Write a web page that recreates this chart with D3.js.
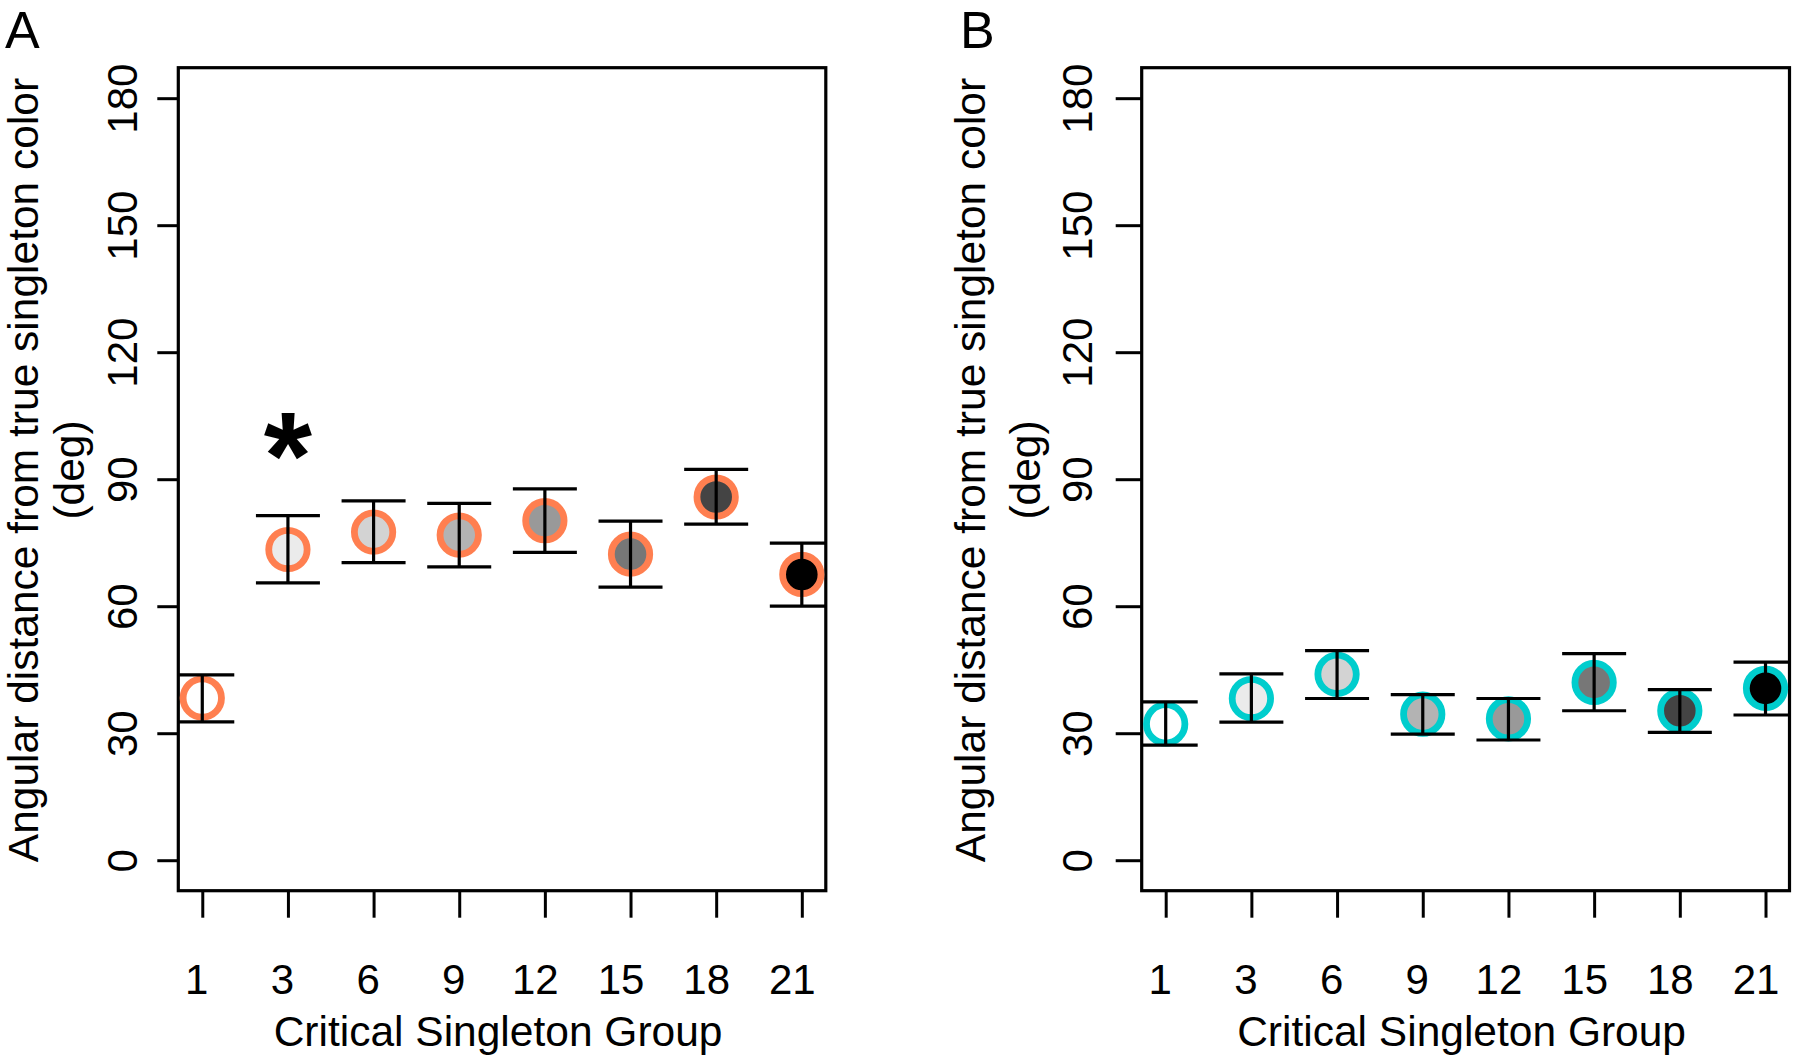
<!DOCTYPE html>
<html>
<head>
<meta charset="utf-8">
<script src="https://cdn.jsdelivr.net/npm/d3@7"></script>
<style>
  html, body { margin: 0; padding: 0; background: #fff; }
  svg { display: block; }
  text { font-family: "Liberation Sans", Arial, Helvetica, sans-serif; fill: #000; }
</style>
</head>
<body>
<svg id="chart" width="1800" height="1057"></svg>
<script>
// ---- Data ----
const groups = ["1", "3", "6", "9", "12", "15", "18", "21"];
const yTicks = [0, 30, 60, 90, 120, 150, 180];
const grayFills = ["#FFFFFF", "#EBEBEB", "#D3D3D3", "#B3B3B3", "#999999", "#777777", "#444444", "#000000"];

const meanA  = [38.3, 73.4, 77.5, 76.8, 80.2, 72.3, 85.8, 67.5];
const upperA = [43.8, 81.4, 84.9, 84.3, 87.7, 80.1, 92.3, 74.9];
const lowerA = [32.7, 65.5, 70.3, 69.3, 72.7, 64.5, 79.4, 60.0];

const meanB  = [32.2, 38.2, 43.9, 34.5, 33.4, 42.0, 35.3, 40.6];
const upperB = [37.4, 44.0, 49.5, 39.1, 38.2, 48.8, 40.3, 46.8];
const lowerB = [27.2, 32.6, 38.2, 29.8, 28.4, 35.3, 30.2, 34.3];

const significance = [{ group: 2, value: 100.8, label: "*" }]; // panel A only

const yTitle1 = "Angular distance from true singleton color";
const yTitle2 = "(deg)";
const xTitle = "Critical Singleton Group";

const panels = [
  { id: "A", mean: meanA, upper: upperA, lower: lowerA, ring: "#FF7F50", stars: significance,
    left: 178.3, right: 825.8, yTickLen: 21, yLabelOff: 41.3, title1X: 38, title2X: 84, letterX: 5 },
  { id: "B", mean: meanB, upper: upperB, lower: lowerB, ring: "#00CDCD", stars: [],
    left: 1141.7, right: 1789.5, yTickLen: 26, yLabelOff: 50, title1X: 985, title2X: 1040, letterX: 960 }
];

const plotTop = 67.7, plotBottom = 890.7;
const svg = d3.select("#chart");

panels.forEach((p) => {
  const x = d3.scaleLinear().domain([0.72, 8.28]).range([p.left, p.right]);
  const y = d3.scaleLinear().domain([-7.2, 187.2]).range([plotBottom, plotTop]);
  const g = svg.append("g");
  const idx = d3.range(1, 9);

  const clipId = "clip" + p.id;
  svg.append("defs").append("clipPath").attr("id", clipId)
    .append("rect").attr("x", p.left).attr("y", plotTop)
    .attr("width", p.right - p.left).attr("height", plotBottom - plotTop);

  // Y axis
  const yAxis = g.append("g").attr("transform", `translate(${p.left},0)`)
    .call(d3.axisLeft(y).tickValues(yTicks).tickSize(p.yTickLen).tickFormat(d3.format("d")));
  yAxis.select(".domain").remove();
  yAxis.selectAll(".tick line").attr("stroke", "#000").attr("stroke-width", 3);
  yAxis.selectAll(".tick text")
    .attr("x", null).attr("dy", null).attr("y", null)
    .attr("transform", `translate(${-p.yLabelOff},0) rotate(-90)`)
    .attr("text-anchor", "middle")
    .attr("fill", "#000")
    .style("font-size", "42px");

  // X axis
  const xAxis = g.append("g").attr("transform", `translate(0,${plotBottom})`)
    .call(d3.axisBottom(x).tickValues(idx).tickSize(27).tickFormat(i => groups[i - 1]));
  xAxis.select(".domain").remove();
  xAxis.selectAll(".tick line").attr("stroke", "#000").attr("stroke-width", 3);
  xAxis.selectAll(".tick text")
    .attr("y", 994 - plotBottom).attr("dy", 0)
    .attr("dx", i => groups[i - 1].length > 1 ? -10 : -6)
    .attr("text-anchor", "middle")
    .attr("fill", "#000")
    .style("font-size", "42px");

  // Box
  g.append("rect").attr("x", p.left).attr("y", plotTop)
    .attr("width", p.right - p.left).attr("height", plotBottom - plotTop)
    .attr("fill", "none").attr("stroke", "#000").attr("stroke-width", 3.2);

  // Points
  g.append("g").selectAll("circle").data(idx).join("circle")
    .attr("cx", i => x(i)).attr("cy", i => y(p.mean[i - 1]))
    .attr("r", 19.2)
    .attr("fill", i => grayFills[i - 1])
    .attr("stroke", p.ring).attr("stroke-width", 6.8);

  // Error bars (on top, clipped to plot region)
  const eb = g.append("g").attr("clip-path", `url(#${clipId})`)
    .attr("stroke", "#000").attr("stroke-width", 3.2);
  eb.selectAll("line.v").data(idx).join("line").attr("class", "v")
    .attr("x1", i => x(i)).attr("x2", i => x(i))
    .attr("y1", i => y(p.upper[i - 1])).attr("y2", i => y(p.lower[i - 1]));
  eb.selectAll("line.cu").data(idx).join("line").attr("class", "cu")
    .attr("x1", i => x(i) - 32).attr("x2", i => x(i) + 32)
    .attr("y1", i => y(p.upper[i - 1])).attr("y2", i => y(p.upper[i - 1]));
  eb.selectAll("line.cl").data(idx).join("line").attr("class", "cl")
    .attr("x1", i => x(i) - 32).attr("x2", i => x(i) + 32)
    .attr("y1", i => y(p.lower[i - 1])).attr("y2", i => y(p.lower[i - 1]));

  // Significance stars
  g.selectAll("text.star").data(p.stars).join("text").attr("class", "star")
    .attr("x", d => x(d.group)).attr("y", d => y(d.value))
    .attr("text-anchor", "middle")
    .attr("dy", "0.53em")
    .style("font-size", "124px").style("font-weight", "bold")
    .text(d => d.label);

  // Axis titles
  const cy = 470;
  g.append("text").attr("transform", `translate(${p.title1X},${cy}) rotate(-90)`)
    .attr("text-anchor", "middle").style("font-size", "42.5px").text(yTitle1);
  g.append("text").attr("transform", `translate(${p.title2X},${cy}) rotate(-90)`)
    .attr("text-anchor", "middle").style("font-size", "42.5px").text(yTitle2);
  g.append("text").attr("x", (p.left + p.right) / 2 - 4).attr("y", 1046)
    .attr("text-anchor", "middle").style("font-size", "42.5px").text(xTitle);

  // Panel letter
  g.append("text").attr("x", p.letterX).attr("y", 47.5)
    .style("font-size", "52px").text(p.id);
});
</script>
</body>
</html>
